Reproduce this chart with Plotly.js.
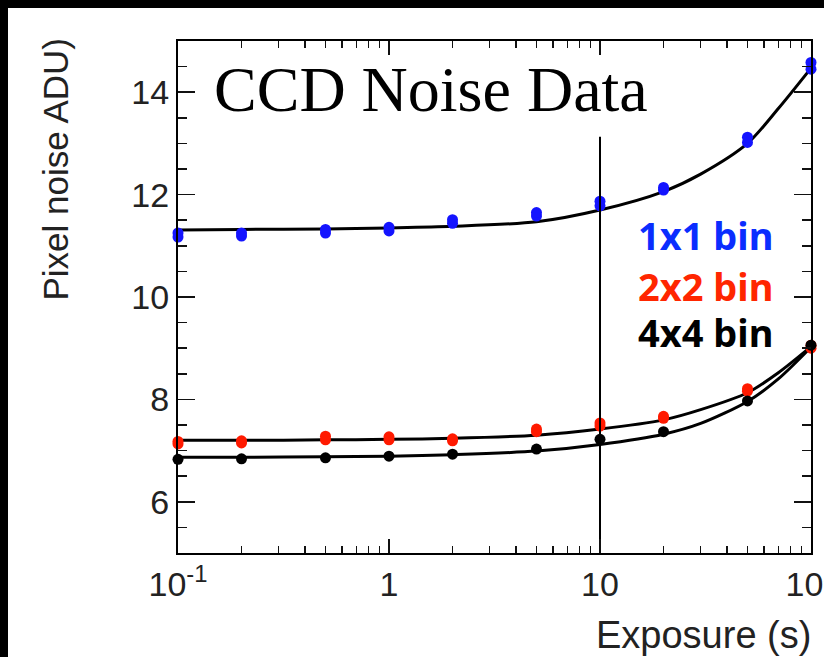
<!DOCTYPE html>
<html>
<head>
<meta charset="utf-8">
<script src="https://cdn.plot.ly/plotly-3.0.1.min.js"></script>
<style>
  html, body { margin: 0; padding: 0; background: #000; width: 824px; height: 657px; overflow: hidden; }
  #chart { position: absolute; left: 8px; top: 8px; width: 816px; height: 649px; background: #fff; }
</style>
</head>
<body>
<div id="chart"></div>
<script>
// ---- data ----
const exposure = [0.1, 0.2, 0.5, 1, 2, 5, 10, 20, 50, 100];

const bin1x1_runA = [11.17, 11.19, 11.25, 11.29, 11.44, 11.58, 11.78, 12.09, 13.02, 14.45];
const bin1x1_runB = [11.25, 11.25, 11.32, 11.36, 11.51, 11.65, 11.87, 12.14, 13.12, 14.58];
const bin2x2_runA = [7.13, 7.15, 7.21, 7.21, 7.19, 7.37, 7.48, 7.63, 8.16, 9.00];
const bin2x2_runB = [7.18, 7.19, 7.28, 7.27, 7.23, 7.42, 7.54, 7.67, 8.21, 9.06];
const bin4x4_run  = [6.83, 6.84, 6.86, 6.89, 6.93, 7.03, 7.22, 7.37, 7.97, 9.06];

const fitExposure = [0.1, 0.2, 0.5, 1, 2, 5, 10, 20, 30, 50, 70, 100];
const fit1x1 = [11.31, 11.32, 11.33, 11.35, 11.38, 11.47, 11.70, 12.06, 12.40, 13.00, 13.68, 14.47];
const fit2x2 = [7.20, 7.20, 7.21, 7.22, 7.24, 7.30, 7.42, 7.60, 7.80, 8.13, 8.52, 9.03];
const fit4x4 = [6.87, 6.87, 6.88, 6.89, 6.92, 6.99, 7.12, 7.32, 7.53, 7.96, 8.40, 9.02];

const markerX = [10, 10];
const markerY = [5, 13.13];

const xTickVals = [0.1, 1, 10, 99.999];
const xTickText = ['10<sup>-1</sup>', '1', '10', '10<sup>2</sup>'];
const xMinorVals = [0.2,0.3,0.4,0.5,0.6,0.7,0.8,0.9,2,3,4,5,6,7,8,9,20,30,40,50,60,70,80,90];
const yTickVals = [6, 8, 10, 12, 14];
const yMinorVals = [5.5,6.5,7,7.5,8.5,9,9.5,10.5,11,11.5,12.5,13,13.5,14.5];

const seriesLabels = ['1x1 bin', '2x2 bin', '4x4 bin'];
const seriesColors = ['#0a2dff', '#ff2600', '#000000'];
const pointColors = ['#1414ff', '#ff1a00', '#000000'];

const chartTitle = 'CCD Noise Data';
const xTitle = 'Exposure (s)';
const yTitle = 'Pixel noise ADU)';

// ---- traces ----
function fitTrace(y) {
  return { x: fitExposure, y: y, mode: 'lines', type: 'scatter',
           line: { color: '#000', width: 3, shape: 'spline', smoothing: 0.8 },
           hoverinfo: 'skip', showlegend: false };
}
function ptTrace(y, c) {
  return { x: exposure, y: y, mode: 'markers', type: 'scatter', cliponaxis: false,
           marker: { color: c, size: 11, line: { width: 0 } }, showlegend: false };
}
const traces = [
  fitTrace(fit1x1), fitTrace(fit2x2), fitTrace(fit4x4),
  ptTrace(bin1x1_runA, pointColors[0]), ptTrace(bin1x1_runB, pointColors[0]),
  ptTrace(bin2x2_runA, pointColors[1]), ptTrace(bin2x2_runB, pointColors[1]),
  ptTrace(bin4x4_run, pointColors[2]),
  { x: markerX, y: markerY, mode: 'lines', type: 'scatter',
    line: { color: '#000', width: 2 }, showlegend: false, hoverinfo: 'skip' },
  // carrier for the minor-tick overlay axes
  { x: [exposure[0]], y: [markerY[0]], xaxis: 'x2', yaxis: 'y2', mode: 'markers',
    marker: { size: 1, opacity: 0 }, showlegend: false, hoverinfo: 'skip' }
];

const sans = 'Liberation Sans, Arial, sans-serif';
const tickFont = { family: sans, size: 34, color: '#222' };

const annotations = [
  { text: chartTitle, xref: 'paper', yref: 'paper', x: 0.054, y: 0.906,
    xanchor: 'left', yanchor: 'middle', showarrow: false,
    font: { family: 'Liberation Serif, serif', size: 64, color: '#000' } },
  { text: xTitle, xref: 'paper', yref: 'paper', x: 1.003, y: -0.16,
    xanchor: 'right', yanchor: 'middle', showarrow: false,
    font: { family: sans, size: 38, color: '#222' } },
  { text: yTitle, xref: 'paper', yref: 'paper', x: -0.194, y: 1.01,
    xanchor: 'center', yanchor: 'top', textangle: -90, showarrow: false,
    font: { family: sans, size: 35, color: '#222' } }
];
const legendY = [0.622, 0.522, 0.432];
seriesLabels.forEach((lab, i) => {
  annotations.push({ text: '<b>' + lab + '</b>', xref: 'paper', yref: 'paper',
    x: 0.943, y: legendY[i], xanchor: 'right', yanchor: 'middle', showarrow: false,
    font: { family: 'Noto Sans, Open Sans, sans-serif', size: 38, color: seriesColors[i] } });
});

const layout = {
  width: 816, height: 649,
  margin: { l: 170, r: 13, t: 33, b: 104 },
  paper_bgcolor: '#fff', plot_bgcolor: 'rgba(0,0,0,0)',
  showlegend: false,
  xaxis: {
    type: 'log', range: [-1, 2], showgrid: false, zeroline: false,
    showline: true, linecolor: '#000', linewidth: 2, mirror: 'ticks',
    ticks: 'inside', ticklen: 14, tickwidth: 1.5, tickcolor: '#111',
    tickmode: 'array', tickvals: xTickVals, ticktext: xTickText,
    tickfont: tickFont, ticklabeloverflow: 'allow'
  },
  yaxis: {
    range: [5, 15], showgrid: false, zeroline: false,
    showline: true, linecolor: '#000', linewidth: 2, mirror: 'ticks',
    ticks: 'inside', ticklen: 17, tickwidth: 1.5, tickcolor: '#111',
    tickmode: 'array', tickvals: yTickVals,
    tickfont: tickFont, ticklabeloverflow: 'allow'
  },
  xaxis2: {
    type: 'log', range: [-1, 2], overlaying: 'x', anchor: 'y2', side: 'bottom',
    showgrid: false, zeroline: false, showline: false, mirror: 'ticks',
    ticks: 'inside', ticklen: 7, tickwidth: 1.5, tickcolor: '#111',
    tickmode: 'array', tickvals: xMinorVals, showticklabels: false
  },
  yaxis2: {
    range: [5, 15], overlaying: 'y', anchor: 'x2', side: 'left',
    showgrid: false, zeroline: false, showline: false, mirror: 'ticks',
    ticks: 'inside', ticklen: 9, tickwidth: 1.5, tickcolor: '#111',
    tickmode: 'array', tickvals: yMinorVals, showticklabels: false
  },
  annotations: annotations
};

Plotly.newPlot('chart', traces, layout, { staticPlot: true, displayModeBar: false });
</script>
</body>
</html>
